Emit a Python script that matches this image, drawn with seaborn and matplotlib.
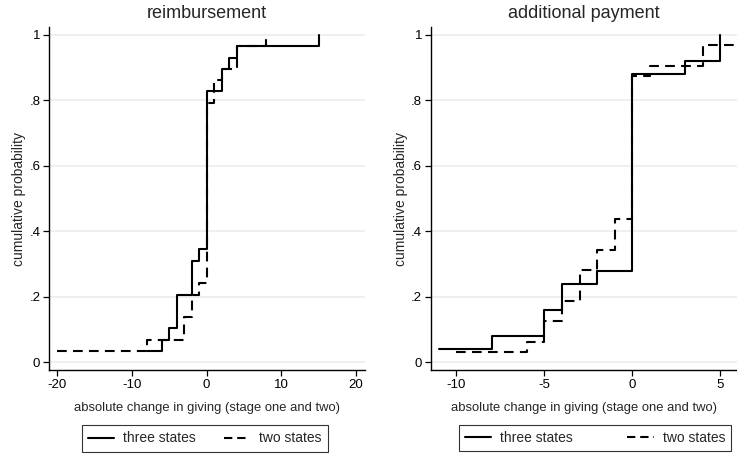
import numpy as np
import pandas as pd
import matplotlib
matplotlib.use("Agg")
import matplotlib.pyplot as plt
import seaborn as sns
from matplotlib.lines import Line2D

# ---- data ----
reimb_three_x = [-8, -6, -5, -4, -2, -1, 0, 2, 3, 4, 15]
reimb_three_n = [1, 2, 3, 6, 9, 10, 24, 26, 27, 28, 29]
reimb_three_total = 29
reimb_two_x = [-20, -8, -3, -2, -1, 0, 1, 2, 4, 8]
reimb_two_n = [1, 2, 4, 6, 7, 23, 25, 26, 28, 29]
reimb_two_total = 29

addpay_three_x = [-11, -8, -5, -4, -2, 0, 3, 5]
addpay_three_n = [1, 2, 4, 6, 7, 22, 23, 25]
addpay_three_total = 25
addpay_two_x = [-10, -6, -5, -4, -3, -2, -1, 0, 1, 4, 10]
addpay_two_n = [1, 2, 4, 6, 9, 11, 14, 28, 29, 31, 32]
addpay_two_total = 32

panel_titles = ["reimbursement", "additional payment"]
series_labels = ["three states", "two states"]
y_ticks = [0, 0.2, 0.4, 0.6, 0.8, 1.0]
y_ticklabels = ["0", ".2", ".4", ".6", ".8", "1"]
left_xticks = [-20, -10, 0, 10, 20]
right_xticks = [-10, -5, 0, 5]
x_label = "absolute change in giving (stage one and two)"
y_label = "cumulative probability"

sns.set_theme(style="ticks")
plt.rcParams["font.family"] = ["Liberation Sans", "DejaVu Sans"]
plt.rcParams["lines.scale_dashes"] = False

W, H = 737, 455
fig = plt.figure(figsize=(W / 100, H / 100), dpi=100)

def frac_axes(x0, y0, x1, y1):
    return fig.add_axes([x0 / W, 1 - y1 / H, (x1 - x0) / W, (y1 - y0) / H])

ax1 = frac_axes(49.3, 27.3, 365, 370.3)
ax2 = frac_axes(431, 27.3, 737, 370.3)

grid_c = "#e4edf1"
dash = (0, (7, 4.5))
lw = 1.5

def draw(ax, xs, ns, total, style, label):
    df = pd.DataFrame({"x": xs, "p": np.array(ns) / total})
    sns.lineplot(data=df, x="x", y="p", ax=ax, drawstyle="steps-post",
                 color="black", linewidth=lw, linestyle=style, label=label,
                 legend=False, zorder=3)

draw(ax1, reimb_three_x, reimb_three_n, reimb_three_total, "-", series_labels[0])
draw(ax1, reimb_two_x, reimb_two_n, reimb_two_total, dash, series_labels[1])
draw(ax2, addpay_three_x, addpay_three_n, addpay_three_total, "-", series_labels[0])
draw(ax2, addpay_two_x, addpay_two_n, addpay_two_total, dash, series_labels[1])

ax1.set_xlim(-21.07, 21.2)
ax2.set_xlim(-11.44, 5.95)

for ax, title, xt in [(ax1, panel_titles[0], left_xticks), (ax2, panel_titles[1], right_xticks)]:
    ax.set_ylim(-0.0244, 1.0235)
    ax.set_yticks(y_ticks)
    ax.set_yticklabels(y_ticklabels)
    ax.set_xticks(xt)
    ax.set_xticklabels([str(v) for v in xt])
    for yv in y_ticks:
        ax.axhline(yv, color=grid_c, lw=1.1, zorder=1)
    ax.set_title(title, fontsize=13, pad=6.5)
    ax.set_xlabel(x_label, fontsize=9.4, labelpad=8)
    ax.set_ylabel(y_label, fontsize=10, labelpad=2.5)
    sns.despine(ax=ax)
    for s in ["left", "bottom"]:
        ax.spines[s].set_color("black")
        ax.spines[s].set_linewidth(1.0)
    ax.tick_params(axis="both", direction="out", length=4, width=0.9,
                   color="black", labelsize=9.5, pad=2.5, labelcolor="black")
    ax.set_facecolor("white")

handles = [Line2D([], [], color="black", lw=lw, linestyle="-"),
           Line2D([], [], color="black", lw=lw, linestyle=(0, (6, 3.5)))]

def add_legend(x0, y0, x1, y1, colsp):
    leg = fig.legend(handles, series_labels, ncol=2, loc="center",
                     bbox_to_anchor=((x0 + x1) / 2 / W, 1 - (y0 + y1) / 2 / H),
                     frameon=True, fancybox=False, fontsize=10,
                     handlelength=1.9, handletextpad=0.65, columnspacing=colsp,
                     borderpad=0.45, edgecolor="black")
    leg.get_frame().set_linewidth(0.8)
    return leg

add_legend(83, 425, 327, 452, 2.0)
add_legend(459, 424, 731, 452, 3.9)

fig.savefig("out.png", dpi=100, facecolor="white")
